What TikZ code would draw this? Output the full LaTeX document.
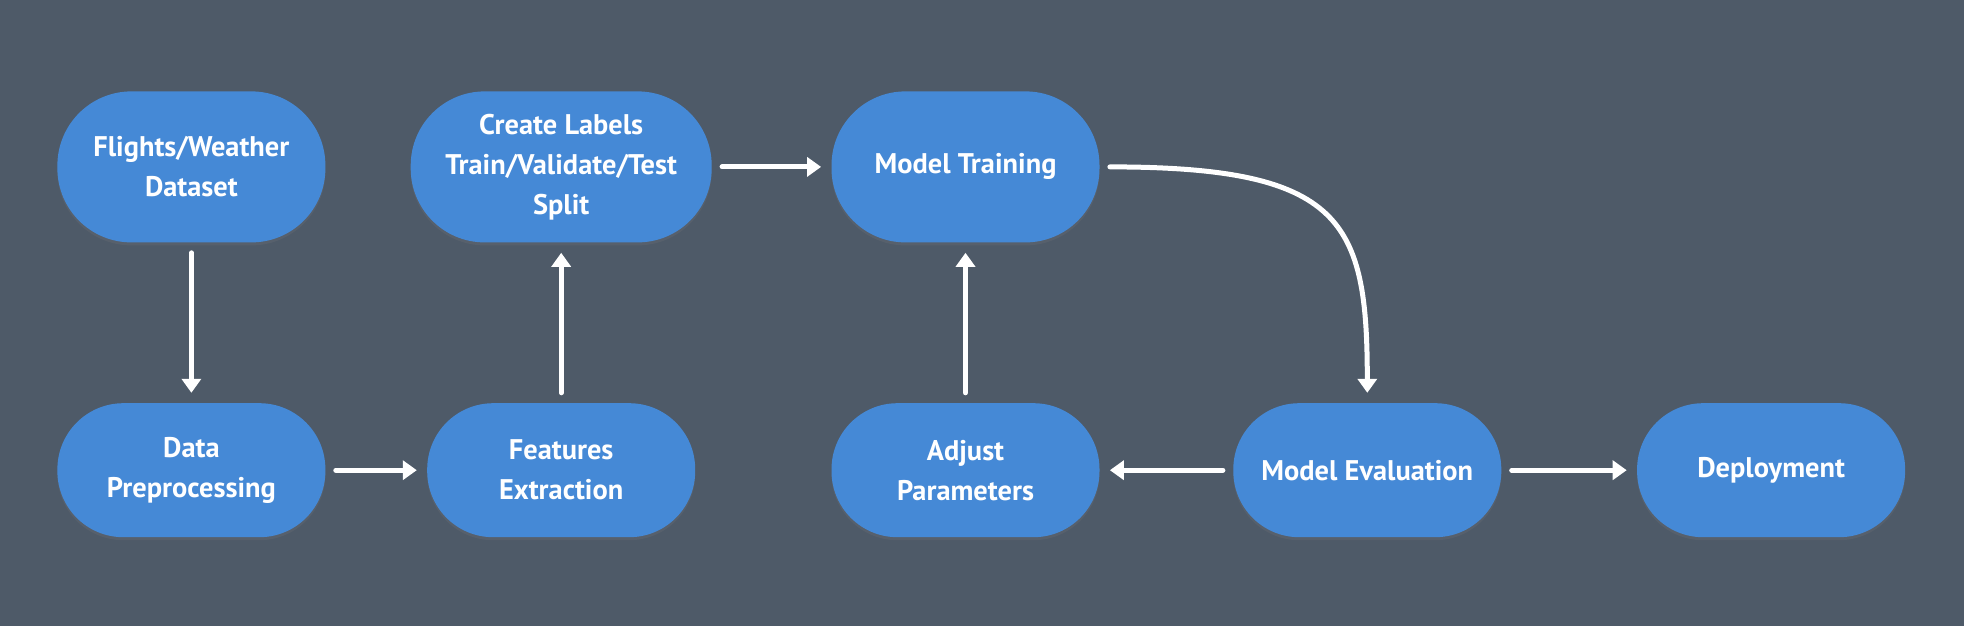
\documentclass[tikz,border=0pt]{standalone}
\usepackage{fontspec}
\setmainfont{PT Sans}
\usetikzlibrary{positioning,arrows.meta,calc,backgrounds,shadows}
\definecolor{bgslate}{HTML}{4E5A68}
\definecolor{stageblue}{HTML}{4589D6}

\begin{document}
\begin{tikzpicture}[
    node distance=80pt and 50pt,
    stage/.style={rectangle, rounded corners=33pt, fill=stageblue,
                  minimum width=134pt, minimum height=67pt, inner xsep=4pt,
                  align=center, text=white,
                  font=\fontsize{14.2}{20}\selectfont\bfseries,
                  drop shadow={opacity=0.18, shadow xshift=0pt, shadow yshift=-1.5pt}},
    tallstage/.style={stage, rounded corners=37pt, minimum height=75.5pt},
    arrow/.style={-{Triangle[width=9.5pt, length=7pt]}, line width=2.5pt,
                  line cap=round, white, shorten <=5pt, shorten >=5pt},
]

% Data preparation
\node[tallstage] (flights) {Flights/Weather\\Dataset};
\node[stage, below=of flights] (prep) {Data\\Preprocessing};
\node[stage, right=50.5pt of prep] (features) {Features\\Extraction};
\node[tallstage, minimum width=150.5pt, above=of features] (labels) {Create Labels\\Train/Validate/Test\\Split};

% Modelling
\node[tallstage, right=59.5pt of labels] (training) {Model Training};
\node[stage, below=of training] (adjust) {Adjust\\Parameters};
\node[stage, right=66.5pt of adjust] (evaluation) {Model Evaluation};
\node[stage, right=67.5pt of evaluation] (deploy) {Deployment};

% Background
\begin{scope}[on background layer]
\fill[bgslate] ($(flights.north west)+(-28.5pt,45.5pt)$) rectangle ++(982pt,-313pt);
\end{scope}

% Arrows
\draw[arrow] (flights) -- (prep);
\draw[arrow] (prep) -- (features);
\draw[arrow] (features) -- (labels);
\draw[arrow] (labels) -- (training);
\draw[arrow] (training.east) .. controls +(121.5pt,0) and +(0,91pt) .. (evaluation.north);
\draw[arrow] (evaluation) -- (adjust);
\draw[arrow] (adjust) -- (training);
\draw[arrow] (evaluation) -- (deploy);

\end{tikzpicture}
\end{document}
